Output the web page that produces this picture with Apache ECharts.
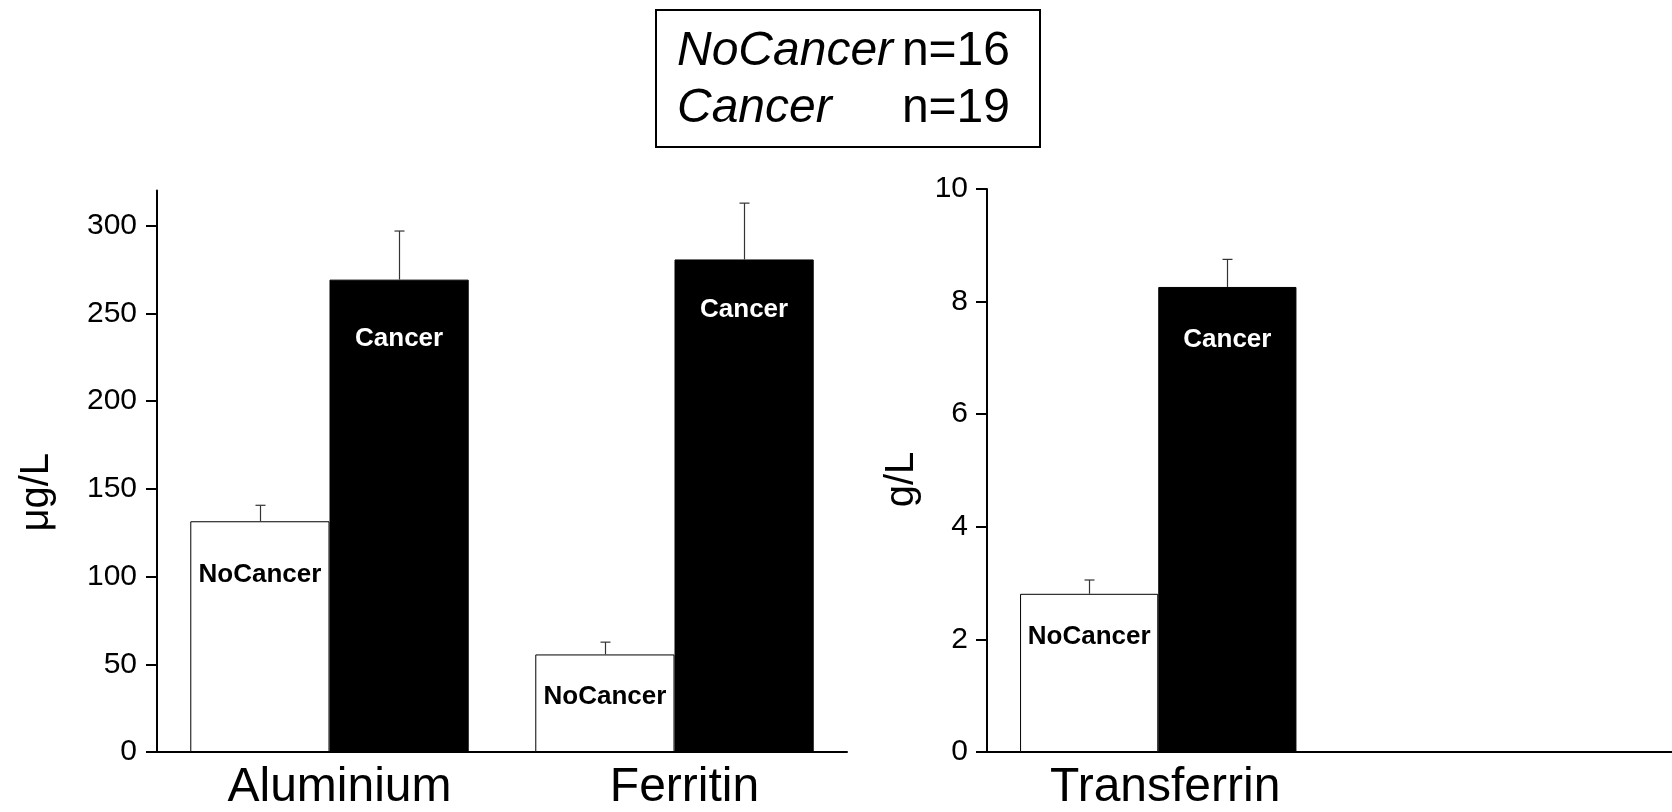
<!DOCTYPE html>
<html><head><meta charset="utf-8">
<script src="https://cdn.jsdelivr.net/npm/echarts@6/dist/echarts.min.js"></script>
<style>html,body{margin:0;padding:0;background:#fff}#c{width:1672px;height:812px}</style>
</head><body><div id="c"></div>
<script>
// ---- data ----
const leftCategories = ['Aluminium', 'Ferritin'];
const leftNoCancer = [131.5, 55.6];
const leftNoCancerErr = [9.1, 7.0];
const leftCancer = [269.2, 280.7];
const leftCancerErr = [27.7, 32.1];
const leftTicks = [0, 50, 100, 150, 200, 250, 300];
const leftUnit = 'μg/L';

const rightCategories = ['Transferrin', ''];
const rightNoCancer = [2.81];
const rightNoCancerErr = [0.245];
const rightCancer = [8.26];
const rightCancerErr = [0.49];
const rightTicks = [0, 2, 4, 6, 8, 10];
const rightUnit = 'g/L';

const groupNames = ['NoCancer', 'Cancer'];
const groupN = [16, 19];

// ---- styling (label distances from bar tops, px) ----
const STYLE = {
  leftNoDist: [41, 29], leftCaDist: [46, 37],
  rightNoDist: [30], rightCaDist: [40]
};

// ---- chart ----
const FONT = '"Liberation Sans", Arial, Helvetica, sans-serif';
const CAT_GAP = 0.193;
const chart = echarts.init(document.getElementById('c'), null, {renderer: 'canvas'});

function errData(means, errs) { return means.map((m, i) => [i, m, errs[i]]); }
function errRender(side) {
  return function (params, api) {
    const i = api.value(0), m = api.value(1), e = api.value(2);
    const band = api.size([1, 0])[0];
    const bw = band * (1 - CAT_GAP) / 2;
    const p0 = api.coord([i, m]);
    const p1 = api.coord([i, m + e]);
    const cx = Math.round(p0[0] + side * bw / 2) + 0.5;
    const st = {stroke: '#333', lineWidth: 1.2};
    return {type: 'group', children: [
      {type: 'line', shape: {x1: cx, y1: p0[1], x2: cx, y2: p1[1]}, style: st},
      {type: 'line', shape: {x1: cx - 5, y1: p1[1], x2: cx + 5, y2: p1[1]}, style: st}
    ]};
  };
}
function yAxis(gi, max, ticks, unit, nameGap, padR, margin) {
  return {
    gridIndex: gi, type: 'value', min: 0, max: max,
    axisLine: {show: true, lineStyle: {color: '#000', width: 2}},
    axisTick: {show: true, length: 11, customValues: ticks, lineStyle: {color: '#000', width: 2}},
    axisLabel: {customValues: ticks, margin: margin, fontSize: 30, color: '#000', fontFamily: FONT},
    splitLine: {show: false},
    name: unit, nameLocation: 'middle', nameGap: nameGap,
    nameTextStyle: {fontSize: 40, color: '#000', fontFamily: FONT, padding: [0, padR, 0, 0]}
  };
}
function xAxis(gi, cats, padL) {
  return {
    gridIndex: gi, type: 'category', data: cats,
    axisLine: {show: true, lineStyle: {color: '#000', width: 2}},
    axisTick: {show: false},
    axisLabel: {fontSize: 48, color: '#000', margin: 12, fontFamily: FONT, padding: [0, 0, 0, padL], interval: 0}
  };
}
function bars(gi, name, values, dists, fill, labelColor) {
  return {
    type: 'bar', name: name, xAxisIndex: gi, yAxisIndex: gi,
    data: values.map((v, i) => ({value: v, label: {distance: dists[i]}})),
    barGap: '0%', barCategoryGap: (CAT_GAP * 100) + '%', silent: true,
    itemStyle: {color: fill, borderColor: '#000', borderWidth: 1},
    label: {show: true, position: 'insideTop', formatter: name,
      color: labelColor, fontSize: 26, fontWeight: 'bold', fontFamily: FONT, textBorderWidth: 0},
    z: 2
  };
}
function errSeries(gi, means, errs, side) {
  return {type: 'custom', xAxisIndex: gi, yAxisIndex: gi, data: errData(means, errs),
    renderItem: errRender(side), encode: {x: 0, y: 1}, silent: true, z: 3};
}

// legend box graphic
const legendTexts = [];
groupNames.forEach((g, k) => {
  const cy = 51.5 + k * 57;
  legendTexts.push({type: 'text', x: 677, y: cy,
    style: {text: g, font: 'italic 48px ' + FONT, fill: '#000', textAlign: 'left', textVerticalAlign: 'middle'}});
  legendTexts.push({type: 'text', x: 1010, y: cy,
    style: {text: 'n=' + groupN[k], font: '48px ' + FONT, fill: '#000', textAlign: 'right', textVerticalAlign: 'middle'}});
});

chart.setOption({
  animation: false,
  backgroundColor: '#fff',
  grid: [
    {left: 157, top: 190.5, width: 690, height: 562, containLabel: false},
    {left: 987, top: 189, width: 690, height: 563, containLabel: false}
  ],
  xAxis: [xAxis(0, leftCategories, 20), xAxis(1, rightCategories, 14)],
  yAxis: [yAxis(0, 320, leftTicks, leftUnit, 100, 42, 20), yAxis(1, 10, rightTicks, rightUnit, 65, 18, 19)],
  series: [
    bars(0, groupNames[0], leftNoCancer, STYLE.leftNoDist, '#fff', '#000'),
    bars(0, groupNames[1], leftCancer, STYLE.leftCaDist, '#000', '#fff'),
    errSeries(0, leftNoCancer, leftNoCancerErr, -1),
    errSeries(0, leftCancer, leftCancerErr, 1),
    bars(1, groupNames[0], rightNoCancer, STYLE.rightNoDist, '#fff', '#000'),
    bars(1, groupNames[1], rightCancer, STYLE.rightCaDist, '#000', '#fff'),
    errSeries(1, rightNoCancer, rightNoCancerErr, -1),
    errSeries(1, rightCancer, rightCancerErr, 1)
  ],
  graphic: [
    {type: 'rect', shape: {x: 656, y: 10, width: 384, height: 137},
      style: {fill: '#fff', stroke: '#000', lineWidth: 2}},
    ...legendTexts
  ]
});
</script></body></html>
